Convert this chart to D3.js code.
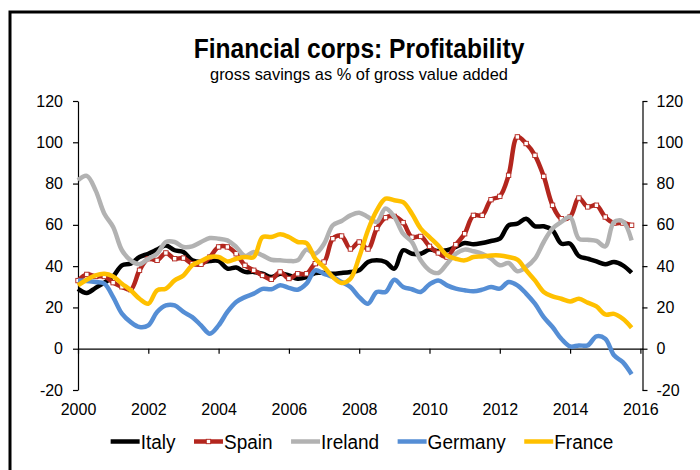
<!DOCTYPE html>
<html>
<head>
<meta charset="utf-8">
<script src="https://cdn.jsdelivr.net/npm/d3@7"></script>
<style>
  body { margin: 0; background: #fff; }
  svg { display: block; font-family: "Liberation Sans", Arial, sans-serif; }
</style>
</head>
<body>
<div id="chart"></div>
<script>
// quarterly observations, 2000Q1 .. 2015Q4
let quarters = d3.range(64).map(i => 2000 + i / 4);

let italy = [29, 27, 29.5, 32, 35, 40.4, 41.2, 44.4, 46, 48, 50, 47.7, 46.8, 42.8, 42, 42.5,
  42.5, 38.8, 39.3, 37.2, 37.2, 36.3, 34.7, 36.3, 35.5, 33.9, 34.7, 36.7, 36.7, 36.3, 36.7, 37.2,
  38, 42, 42.8, 42, 38.8, 47.7, 46, 46, 48, 47.3, 47.7, 49.3, 51.2, 50.6, 51.2, 52.2,
  53.3, 59.8, 60.6, 63, 59.3, 59.3, 57.4, 50.9, 50.9, 44.9, 43.6, 42.3, 40.9, 42, 40.4, 36.8];

let spain = [33, 36, 35, 35, 32, 30, 28.6, 38, 43.6, 42.8, 46.4, 43.6, 43.9, 41.2, 40.9, 44.4,
  49.3, 49.3, 46, 40.4, 38, 35.5, 33.6, 37.2, 34, 36.3, 36.3, 41.2, 42, 53.3, 54.6, 48.3,
  51.7, 48.3, 58.2, 63.5, 64.1, 61.1, 54, 54.4, 49.6, 46.4, 44.4, 50.4, 55.7, 64.6, 64.6, 72.2,
  73.8, 84, 102.6, 99.4, 93.7, 83.5, 69.5, 63, 63.8, 73, 68.7, 69.5, 63.8, 60.9, 60.9, 59.8];

let ireland = [81.6, 83.7, 76.7, 65.4, 59, 47.7, 42.8, 40.9, 43.6, 46, 51.7, 51.7, 49.3, 49.6, 51.7, 53.6,
  53.3, 52.5, 49.3, 44.9, 46.8, 45.2, 43.1, 42.8, 42.5, 42.8, 48, 46, 50.8, 59.8, 61.9, 64.6,
  65.9, 63.8, 61.4, 67.9, 63.8, 55.7, 51.7, 42.8, 38, 36.7, 41.2, 46, 48, 47.2, 46, 43.6,
  40.4, 41.5, 37.5, 39.6, 43.6, 51.7, 58.2, 61.4, 63.8, 53.3, 52.8, 52.2, 49.6, 61.4, 61.7, 52.5];

let germany = [33.1, 32.8, 32.3, 31.5, 25, 17, 12.9, 10.5, 11.3, 17.8, 21, 21, 17.8, 15.3, 11.3, 7.3,
  11.3, 17.8, 22.6, 25, 26.7, 29, 28.8, 30.7, 29.5, 28.6, 31.5, 38, 36.3, 34.7, 32.3, 29.9,
  25, 21.8, 27.5, 27.5, 33.4, 29.9, 28.8, 27.5, 31.2, 33.1, 30.7, 29.1, 28.3, 27.8, 28.6, 29.9,
  29.1, 32.3, 30.7, 26.7, 21.8, 15.3, 10.5, 4.8, 1.1, 1.6, 1.6, 6, 4.8, -3.2, -6.5, -12.4];

let france = [30.7, 33.4, 35.5, 36.3, 35, 31.5, 28.3, 24.2, 21.8, 28.3, 29.1, 33.1, 35.5, 40.4, 42.5, 44.4,
  44.4, 42.3, 43.6, 44.4, 44.4, 54.1, 54.1, 55.4, 54.1, 51.7, 51.2, 43.6, 39.6, 34.7, 31.8, 33.9,
  44.4, 57.4, 67, 72.7, 71.9, 71, 65.4, 58.2, 54.1, 50, 45.2, 43.6, 42.8, 44.4, 44.7, 45.2,
  45.2, 44.4, 43.1, 38, 33.1, 27.5, 25.4, 24.2, 22.9, 24.2, 22.3, 20.5, 16.6, 16.9, 14.5, 10.2];

let seriesNames = ["Italy", "Spain", "Ireland", "Germany", "France"];
let seriesValues = [italy, spain, ireland, germany, france];
let seriesColors = ["#000000", "#B3261E", "#B2B2B2", "#558ED5", "#FFC000"];

let yTicks = [-20, 0, 20, 40, 60, 80, 100, 120];
let xTicks = [2000, 2002, 2004, 2006, 2008, 2010, 2012, 2014, 2016];

let titleText = "Financial corps: Profitability",
  subtitleText = "gross savings as % of gross value added";

let width = 700, height = 470;
let plot = { left: 78, right: 642.5, top: 101, bottom: 390 };

let svg = d3.select("#chart").append("svg")
  .attr("width", width)
  .attr("height", height);

// chart area frame (runs off the right and bottom edges)
svg.append("rect")
  .attr("x", 10).attr("y", 12)
  .attr("width", 800).attr("height", 600)
  .attr("fill", "none")
  .attr("stroke", "#000")
  .attr("stroke-width", 3);

// the original lettering is a little taller than wide, so stretch it vertically
svg.append("text")
  .attr("transform", "translate(359,58) scale(1,1.1)")
  .attr("text-anchor", "middle")
  .style("font-size", "24.6px")
  .style("font-weight", "bold")
  .text(titleText);

svg.append("text")
  .attr("transform", "translate(359,79.5)")
  .attr("text-anchor", "middle")
  .style("font-size", "16.4px")
  .text(subtitleText);

let xScale = d3.scaleLinear()
  .domain([2000, 2016.06])
  .range([plot.left, plot.right]);

let yScale = d3.scaleLinear()
  .domain([-20, 120])
  .range([plot.bottom, plot.top]);

function styleAxis(g) {
  g.selectAll("path, line").attr("stroke", "#000").attr("stroke-width", 1.2);
  g.selectAll("text").attr("fill", "#000").style("font-size", "16px").style("font-family", "'Liberation Sans', Arial, sans-serif");
}

// left value axis
svg.append("g")
  .attr("transform", "translate(" + plot.left + ",0)")
  .call(d3.axisLeft(yScale).tickValues(yTicks).tickSize(5).tickSizeOuter(0).tickPadding(10).tickFormat(d => String(d)))
  .call(styleAxis);

// right value axis
svg.append("g")
  .attr("transform", "translate(" + plot.right + ",0)")
  .call(d3.axisRight(yScale).tickValues(yTicks).tickSize(5).tickSizeOuter(0).tickPadding(9).tickFormat(d => String(d)))
  .call(styleAxis);

// horizontal axis line at zero
svg.append("g")
  .attr("transform", "translate(0," + yScale(0) + ")")
  .call(d3.axisBottom(xScale).tickValues(xTicks).tickSize(5).tickSizeOuter(0).tickFormat(""))
  .call(styleAxis);

// year labels sit below the plot
svg.append("g")
  .attr("transform", "translate(0," + plot.bottom + ")")
  .call(d3.axisBottom(xScale).tickValues(xTicks).tickSize(0).tickPadding(14).tickFormat(d3.format("d")))
  .call(styleAxis)
  .call(g => g.select(".domain").remove());

let line = d3.line()
  .x((d, i) => xScale(quarters[i]))
  .y(d => yScale(d))
  .curve(d3.curveCatmullRom.alpha(0.5));

seriesValues.forEach((vals, k) => {
  svg.append("path")
    .datum(vals)
    .attr("fill", "none")
    .attr("stroke", seriesColors[k])
    .attr("stroke-width", 4.5)
    .attr("stroke-linejoin", "round")
    .attr("d", line);

  if (seriesNames[k] === "Spain") {
    svg.append("g")
      .selectAll("rect")
      .data(vals)
      .enter().append("rect")
        .attr("x", (d, i) => xScale(quarters[i]) - 2.2)
        .attr("y", d => yScale(d) - 2.2)
        .attr("width", 4.4)
        .attr("height", 4.4)
        .attr("fill", "#fff")
        .attr("stroke", seriesColors[k])
        .attr("stroke-width", 0.9);
  }
});

// legend, laid out left to right and centred
let legend = svg.append("g");
let lx = 0;
seriesNames.forEach((name, k) => {
  let item = legend.append("g");
  item.append("line")
    .attr("x1", 0).attr("x2", 29)
    .attr("stroke", seriesColors[k])
    .attr("stroke-width", 4.5);
  if (name === "Spain") {
    item.append("rect")
      .attr("x", 12.3).attr("y", -2.2)
      .attr("width", 4.4).attr("height", 4.4)
      .attr("fill", "#fff")
      .attr("stroke", seriesColors[k])
      .attr("stroke-width", 0.9);
  }
  let t = item.append("text")
    .attr("transform", "translate(30,7) scale(1,1.08)")
    .style("font-size", "19px")
    .text(name);
  item.attr("transform", "translate(" + lx + ",0)");
  lx += 30 + t.node().getComputedTextLength() + 18.5;
});
let legendWidth = lx - 18.5;
legend.attr("transform", "translate(" + (362 - legendWidth / 2) + ",441.5)");
</script>
</body>
</html>
